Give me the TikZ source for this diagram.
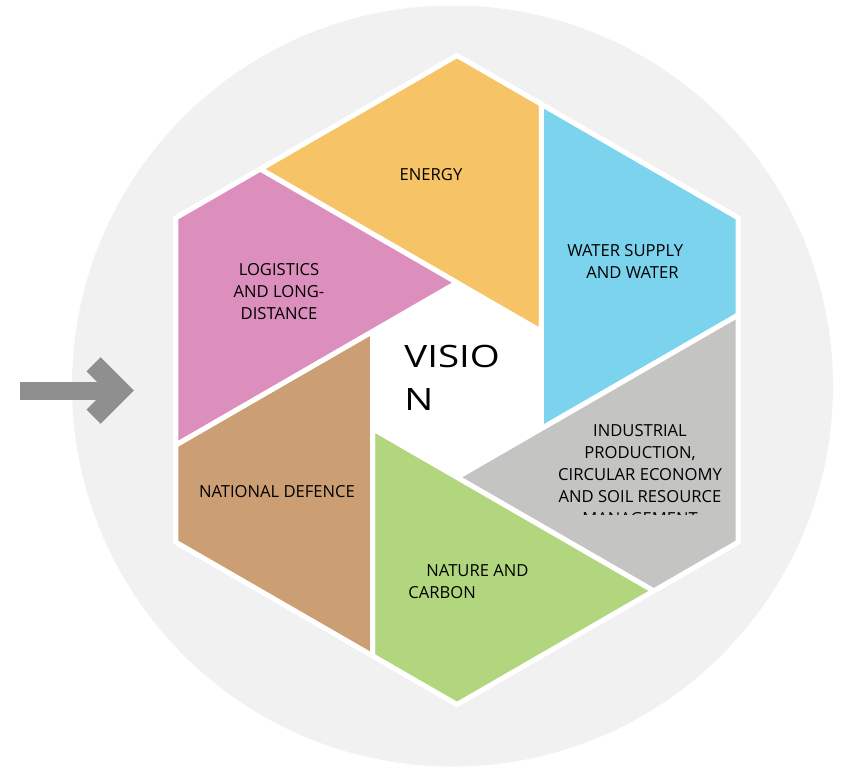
\documentclass[tikz,border=0pt]{standalone}
\usepackage{fontspec}
\setmainfont{Open Sans}
\newfontfamily\visiofont[FakeStretch=1.25]{Open Sans}
\usetikzlibrary{calc}

\definecolor{ringgray}{HTML}{F1F1F1}
\definecolor{arrowgray}{HTML}{8F8F8F}
\definecolor{energycol}{HTML}{F6C367}
\definecolor{watercol}{HTML}{7BD3ED}
\definecolor{industrycol}{HTML}{C4C4C3}
\definecolor{naturecol}{HTML}{B2D67E}
\definecolor{defencecol}{HTML}{CC9E74}
\definecolor{logisticscol}{HTML}{DC8FBC}

\begin{document}
\begin{tikzpicture}[x=0.5pt,y=0.5pt]

% definitions
\tikzstyle{piece} = [draw=white, line width=2.5pt, line join=round]
\tikzstyle{sectortext} = [text=black, inner sep=0pt, font=\fontsize{8.3}{11}\selectfont]
\tikzstyle{bigarrow} = [draw=arrowgray, line width=9pt]
\tikzstyle{arrowhead} = [draw=arrowgray, line width=10pt, line join=miter, line cap=butt]

\useasboundingbox (-457,-387) rectangle (388,380);

% the ring
\fill[ringgray] (-4.5,-6) circle (380.5);

% corners of the hexagon, cuts on its sides, corners of the hole
\coordinate (v0) at (90:324.5);
\coordinate (v1) at (30:324.5);
\coordinate (v2) at (-30:324.5);
\coordinate (v3) at (-90:324.5);
\coordinate (v4) at (-150:324.5);
\coordinate (v5) at (150:324.5);

\coordinate (p0) at ($(v0)!0.3!(v1)$);
\coordinate (p1) at ($(v1)!0.3!(v2)$);
\coordinate (p2) at ($(v2)!0.3!(v3)$);
\coordinate (p3) at ($(v3)!0.3!(v4)$);
\coordinate (p4) at ($(v4)!0.3!(v5)$);
\coordinate (p5) at ($(v5)!0.3!(v0)$);

\coordinate (q0) at (30:97.35);
\coordinate (q1) at (-30:97.35);
\coordinate (q2) at (-90:97.35);
\coordinate (q3) at (-150:97.35);
\coordinate (q4) at (150:97.35);
\coordinate (q5) at (90:97.35);

% the hexagon
\draw[fill=white, draw=white, line width=2.5pt, line join=miter] (v0) -- (v1) -- (v2) -- (v3) -- (v4) -- (v5) -- cycle;

\draw[piece, fill=energycol] (p5) -- (v0) -- (p0) -- (q0) -- cycle;
\draw[piece, fill=watercol] (p0) -- (v1) -- (p1) -- (q1) -- cycle;
\draw[piece, fill=industrycol] (p1) -- (v2) -- (p2) -- (q2) -- cycle;
\draw[piece, fill=naturecol] (p2) -- (v3) -- (p3) -- (q3) -- cycle;
\draw[piece, fill=defencecol] (p3) -- (v4) -- (p4) -- (q4) -- cycle;
\draw[piece, fill=logisticscol] (p4) -- (v5) -- (p5) -- (q5) -- cycle;

% the texts
\node (energy) [sectortext] at (-26,205) {ENERGY};

\node (water) [sectortext, align=left, anchor=west] at (110,119) {WATER SUPPLY\\\hspace*{9.5pt}AND WATER};

\begin{scope}
\clip (40,-134) rectangle (300,0);
\node (industry) [sectortext, align=center] at (183,-94.5) {INDUSTRIAL\\PRODUCTION,\\CIRCULAR ECONOMY\\AND SOIL RESOURCE\\MANAGEMENT};
\end{scope}

\node (nature) [sectortext, align=left, anchor=west] at (-49,-202) {\hspace*{9pt}NATURE AND\\CARBON};

\node (defence) [sectortext] at (-180,-112) {NATIONAL DEFENCE};

\node (logistics) [sectortext, align=center] at (-178,88) {LOGISTICS\\AND LONG-\\DISTANCE};

\node (vision) [inner sep=0pt, align=left, anchor=north west, font=\visiofont\fontsize{15.4}{21.5}\selectfont] at (-53,35) {VISIO\\N};

% the arrow
\coordinate (tail) at (-437,-10.5);
\coordinate (neck) at (-350,-10.5);
\coordinate (tip) at (-337.2,-10.5);

\draw [bigarrow] (tail) -- (neck);
\draw [arrowhead] ($(tip)+(-26.2,26.2)$) -- (tip) -- ($(tip)+(-26.2,-26.2)$);

\end{tikzpicture}
\end{document}
